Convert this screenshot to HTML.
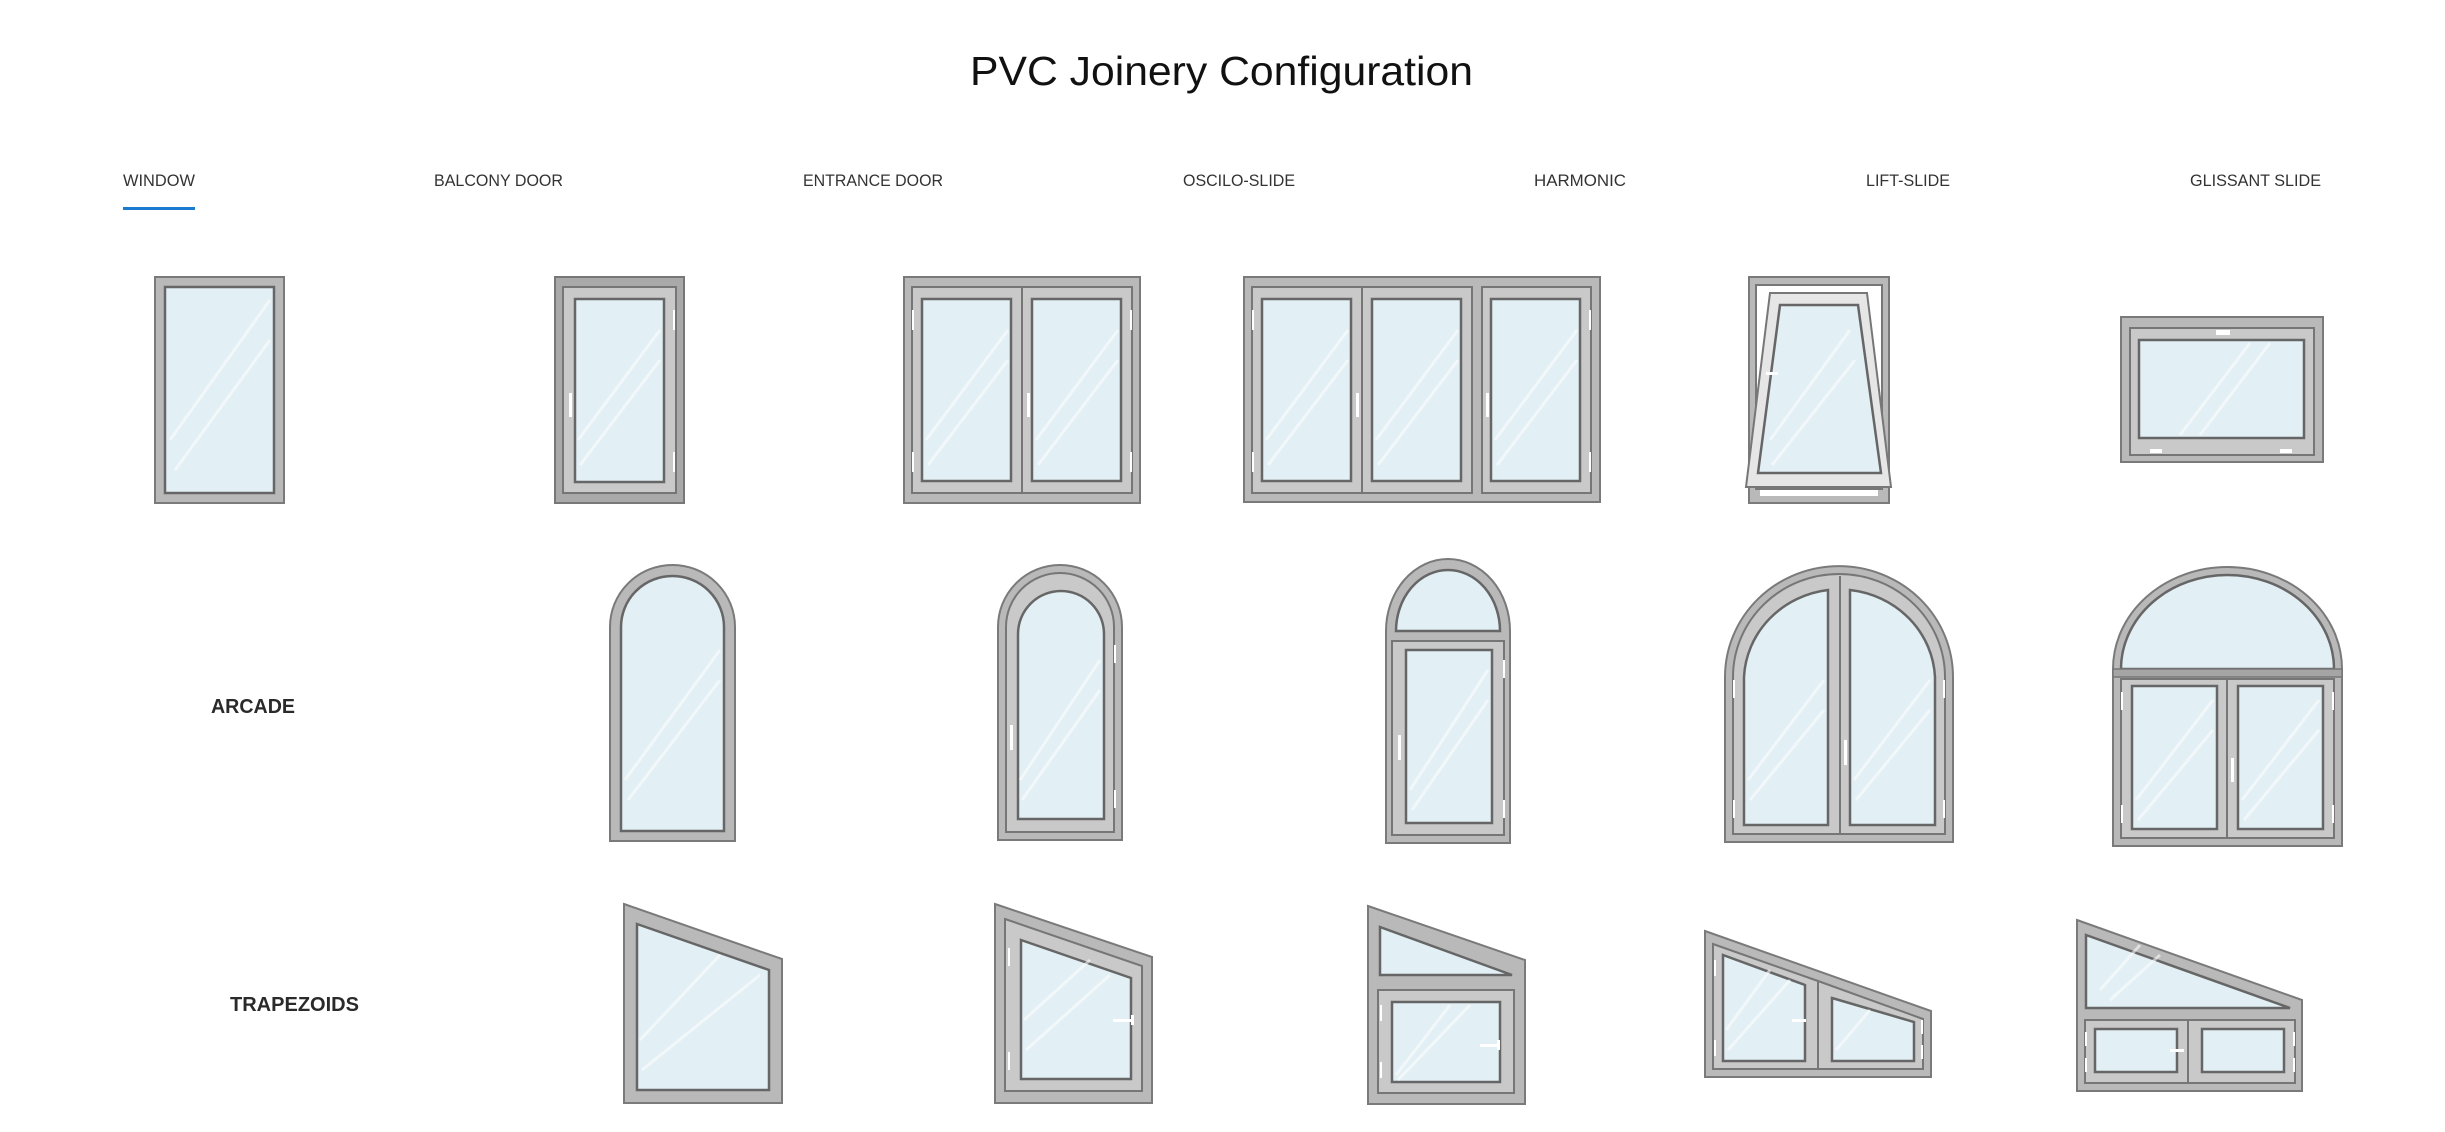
<!DOCTYPE html>
<html><head><meta charset="utf-8"><style>
html,body{margin:0;padding:0;background:#fff;}
svg{display:block}
.f{fill:#b9b9b9;stroke:#7a7a7a;stroke-width:2}
.fd{fill:#a9a9a9;stroke:#777;stroke-width:2}
.s{fill:#c9c9c9;stroke:#767676;stroke-width:2}
.g{fill:#e2eff4;stroke:#666;stroke-width:2.5}
.h{stroke:#fff;stroke-opacity:.55;stroke-width:3;fill:none}
.w{fill:#fff}
.tab{font-family:"Liberation Sans",sans-serif;font-size:17px;fill:#333}
.lab{font-family:"Liberation Sans",sans-serif;font-size:20px;font-weight:bold;fill:#2a2a2a}
</style></head><body>
<svg width="2445" height="1132" viewBox="0 0 2445 1132" xmlns="http://www.w3.org/2000/svg">
<text x="970" y="85" font-family="Liberation Sans, sans-serif" font-size="41" fill="#111" textLength="503" lengthAdjust="spacingAndGlyphs">PVC Joinery Configuration</text>
<text class="tab" x="123" y="186" textLength="72" lengthAdjust="spacingAndGlyphs" fill="#111">WINDOW</text>
<rect x="123" y="207" width="72" height="3" fill="#1a7bd0"/>
<text class="tab" x="434" y="186" textLength="129" lengthAdjust="spacingAndGlyphs">BALCONY DOOR</text>
<text class="tab" x="803" y="186" textLength="140" lengthAdjust="spacingAndGlyphs">ENTRANCE DOOR</text>
<text class="tab" x="1183" y="186" textLength="112" lengthAdjust="spacingAndGlyphs">OSCILO-SLIDE</text>
<text class="tab" x="1534" y="186" textLength="92" lengthAdjust="spacingAndGlyphs">HARMONIC</text>
<text class="tab" x="1866" y="186" textLength="84" lengthAdjust="spacingAndGlyphs">LIFT-SLIDE</text>
<text class="tab" x="2190" y="186" textLength="131" lengthAdjust="spacingAndGlyphs">GLISSANT SLIDE</text>
<text class="lab" x="211" y="713" textLength="84" lengthAdjust="spacingAndGlyphs">ARCADE</text>
<text class="lab" x="230" y="1011" textLength="129" lengthAdjust="spacingAndGlyphs">TRAPEZOIDS</text>

<!-- Row 1 -->
<rect class="f" x="155" y="277" width="129" height="226"/>
<rect class="g" x="165" y="287" width="109" height="206"/>
<path class="h" d="M170 440 L270 300 M175 470 L270 340"/>

<rect class="fd" x="555" y="277" width="129" height="226"/>
<rect class="s" x="563" y="287" width="113" height="206"/>
<rect class="g" x="575" y="299" width="89" height="183"/>
<path class="h" d="M578 440 L660 330 M580 465 L660 360"/>
<rect class="w" x="569" y="393" width="3" height="24"/>
<rect class="w" x="673" y="310" width="2" height="20"/><rect class="w" x="673" y="452" width="2" height="20"/>

<rect class="f" x="904" y="277" width="236" height="226"/>
<rect class="s" x="912" y="287" width="110" height="206"/>
<rect class="s" x="1022" y="287" width="110" height="206"/>
<rect class="g" x="922" y="299" width="89" height="182"/>
<rect class="g" x="1032" y="299" width="89" height="182"/>
<path class="h" d="M926 440 L1008 330 M928 465 L1008 360 M1036 440 L1118 330 M1038 465 L1118 360"/>
<rect class="w" x="1027" y="393" width="3" height="24"/>
<rect class="w" x="912" y="310" width="2" height="20"/><rect class="w" x="912" y="452" width="2" height="20"/>
<rect class="w" x="1130" y="310" width="2" height="20"/><rect class="w" x="1130" y="452" width="2" height="20"/>

<rect class="f" x="1244" y="277" width="356" height="225"/>
<rect class="s" x="1252" y="287" width="110" height="206"/>
<rect class="s" x="1362" y="287" width="110" height="206"/>
<rect class="s" x="1482" y="287" width="109" height="206"/>
<rect class="g" x="1262" y="299" width="89" height="182"/>
<rect class="g" x="1372" y="299" width="89" height="182"/>
<rect class="g" x="1491" y="299" width="89" height="182"/>
<path class="h" d="M1266 440 L1348 330 M1268 465 L1348 360 M1376 440 L1458 330 M1378 465 L1458 360 M1495 440 L1577 330 M1497 465 L1577 360"/>
<rect class="w" x="1356" y="393" width="3" height="24"/><rect class="w" x="1486" y="393" width="3" height="24"/>
<rect class="w" x="1252" y="310" width="2" height="20"/><rect class="w" x="1252" y="452" width="2" height="20"/>
<rect class="w" x="1589" y="310" width="2" height="20"/><rect class="w" x="1589" y="452" width="2" height="20"/>

<rect class="f" x="1749" y="277" width="140" height="226"/>
<rect x="1756" y="285" width="126" height="204" fill="#fff" stroke="#777" stroke-width="2"/>
<rect class="w" x="1760" y="490" width="118" height="6"/>
<polygon points="1770,293 1867,293 1891,487 1746,487" fill="#e6e6e6" stroke="#777" stroke-width="2"/>
<polygon class="g" points="1780,305 1858,305 1881,473 1758,473"/>
<path class="h" d="M1770 440 L1850 330 M1772 465 L1855 360"/>
<rect class="w" x="1766" y="372" width="12" height="3"/>

<rect class="f" x="2121" y="317" width="202" height="145"/>
<rect class="s" x="2130" y="328" width="184" height="127"/>
<rect class="g" x="2139" y="340" width="165" height="98"/>
<path class="h" d="M2180 435 L2250 343 M2200 435 L2270 343"/>
<rect class="w" x="2216" y="330" width="14" height="5"/>
<rect class="w" x="2150" y="449" width="12" height="4"/><rect class="w" x="2280" y="449" width="12" height="4"/>

<!-- Row 2 arcade -->
<path class="f" d="M610 841 V627 A62.5 62 0 0 1 735 627 V841 Z"/>
<path class="g" d="M621 831 V627 A51.5 51 0 0 1 724 627 V831 Z"/>
<path class="h" d="M625 780 L720 650 M628 800 L720 680"/>

<path class="f" d="M998 840 V627 A62 62 0 0 1 1122 627 V840 Z"/>
<path class="s" d="M1006 832 V627 A54 54 0 0 1 1114 627 V832 Z"/>
<path class="g" d="M1018 819 V634 A43 43 0 0 1 1104 634 V819 Z"/>
<path class="h" d="M1020 780 L1100 660 M1022 800 L1100 690"/>
<rect class="w" x="1010" y="725" width="3" height="25"/>
<rect class="w" x="1114" y="645" width="2" height="18"/><rect class="w" x="1114" y="790" width="2" height="18"/>

<path class="f" d="M1386 843 V631 A62 72 0 0 1 1510 631 V843 Z"/>
<path class="g" d="M1396 631 A52 61 0 0 1 1500 631 Z"/>
<rect class="s" x="1392" y="641" width="112" height="194"/>
<rect class="g" x="1406" y="650" width="86" height="173"/>
<path class="h" d="M1410 790 L1488 670 M1412 810 L1488 700"/>
<rect class="w" x="1398" y="735" width="3" height="25"/>
<rect class="w" x="1503" y="660" width="2" height="18"/><rect class="w" x="1503" y="800" width="2" height="18"/>

<path class="f" d="M1725 842 V677 A114 111 0 0 1 1953 677 V842 Z"/>
<path class="s" d="M1733 834 V677 A106 103 0 0 1 1945 677 V834 Z" />
<line x1="1840" y1="576" x2="1840" y2="834" stroke="#777" stroke-width="2"/>
<path class="g" d="M1744 825 V677 A96 92 0 0 1 1828 590 V825 Z"/>
<path class="g" d="M1850 825 V590 A96 92 0 0 1 1935 677 V825 Z"/>
<path class="h" d="M1748 780 L1824 680 M1750 800 L1824 710 M1854 780 L1930 680 M1856 800 L1930 710"/>
<rect class="w" x="1844" y="740" width="3" height="25"/>
<rect class="w" x="1733" y="680" width="2" height="18"/><rect class="w" x="1733" y="800" width="2" height="18"/>
<rect class="w" x="1943" y="680" width="2" height="18"/><rect class="w" x="1943" y="800" width="2" height="18"/>

<path class="f" d="M2113 846 V669 A114.5 102 0 0 1 2342 669 V846 Z"/>
<path class="g" d="M2121 669 A106.5 94 0 0 1 2334 669 Z"/>
<rect x="2113" y="669" width="229" height="8" fill="#a5a5a5" stroke="#777" stroke-width="1.5"/>
<rect class="s" x="2121" y="679" width="106" height="159"/>
<rect class="s" x="2227" y="679" width="107" height="159"/>
<rect class="g" x="2132" y="686" width="85" height="143"/>
<rect class="g" x="2238" y="686" width="85" height="143"/>
<path class="h" d="M2136 800 L2213 700 M2138 820 L2213 730 M2242 800 L2319 700 M2244 820 L2319 730"/>
<rect class="w" x="2231" y="758" width="3" height="24"/>
<rect class="w" x="2121" y="692" width="2" height="18"/><rect class="w" x="2121" y="805" width="2" height="18"/>
<rect class="w" x="2332" y="692" width="2" height="18"/><rect class="w" x="2332" y="805" width="2" height="18"/>

<!-- Row 3 trapezoids -->
<polygon class="f" points="624,904 782,959 782,1103 624,1103"/>
<polygon class="g" points="637,924 769,970 769,1090 637,1090"/>
<path class="h" d="M640 1040 L720 955 M642 1070 L760 975"/>

<polygon class="f" points="995,904 1152,957 1152,1103 995,1103"/>
<polygon class="s" points="1005,919 1142,966 1142,1091 1005,1091"/>
<polygon class="g" points="1021,940 1131,978 1131,1079 1021,1079"/>
<path class="h" d="M1024 1020 L1090 960 M1026 1050 L1110 975"/>
<rect class="w" x="1113" y="1019" width="20" height="3"/><rect class="w" x="1131" y="1015" width="3" height="10"/>
<rect class="w" x="1008" y="948" width="2" height="18"/><rect class="w" x="1008" y="1052" width="2" height="18"/>

<polygon class="f" points="1368,906 1525,960 1525,1104 1368,1104"/>
<polygon class="g" points="1380,927 1512,975 1380,975"/>
<rect class="s" x="1378" y="990" width="136" height="103"/>
<rect class="g" x="1392" y="1002" width="108" height="80"/>
<path class="h" d="M1396 1075 L1450 1005 M1398 1080 L1470 1005"/>
<rect class="w" x="1480" y="1044" width="18" height="3"/><rect class="w" x="1497" y="1040" width="3" height="10"/>
<rect class="w" x="1380" y="1005" width="2" height="16"/><rect class="w" x="1380" y="1062" width="2" height="16"/>

<polygon class="f" points="1705,931 1931,1011 1931,1077 1705,1077"/>
<polygon class="s" points="1713,944 1818,981 1818,1069 1713,1069"/>
<polygon class="s" points="1818,981 1923,1019 1923,1069 1818,1069"/>
<polygon class="g" points="1723,955 1805,985 1805,1061 1723,1061"/>
<polygon class="g" points="1832,998 1914,1022 1914,1061 1832,1061"/>
<path class="h" d="M1726 1030 L1770 970 M1728 1050 L1790 980 M1836 1050 L1870 1010"/>
<rect class="w" x="1792" y="1019" width="14" height="3"/>
<rect class="w" x="1714" y="960" width="2" height="16"/><rect class="w" x="1714" y="1040" width="2" height="16"/>
<rect class="w" x="1921" y="1020" width="2" height="14"/><rect class="w" x="1921" y="1045" width="2" height="14"/>

<polygon class="f" points="2077,920 2302,1000 2302,1091 2077,1091"/>
<polygon class="g" points="2086,935 2290,1008 2086,1008"/>
<rect class="s" x="2085" y="1020" width="103" height="63"/>
<rect class="s" x="2188" y="1020" width="107" height="63"/>
<rect class="g" x="2095" y="1029" width="82" height="43"/>
<rect class="g" x="2202" y="1029" width="82" height="43"/>
<path class="h" d="M2100 990 L2140 945 M2110 1000 L2160 955"/>
<rect class="w" x="2170" y="1049" width="14" height="3"/>
<rect class="w" x="2085" y="1032" width="2" height="14"/><rect class="w" x="2085" y="1058" width="2" height="14"/>
<rect class="w" x="2293" y="1032" width="2" height="14"/><rect class="w" x="2293" y="1058" width="2" height="14"/>
</svg>
</body></html>
